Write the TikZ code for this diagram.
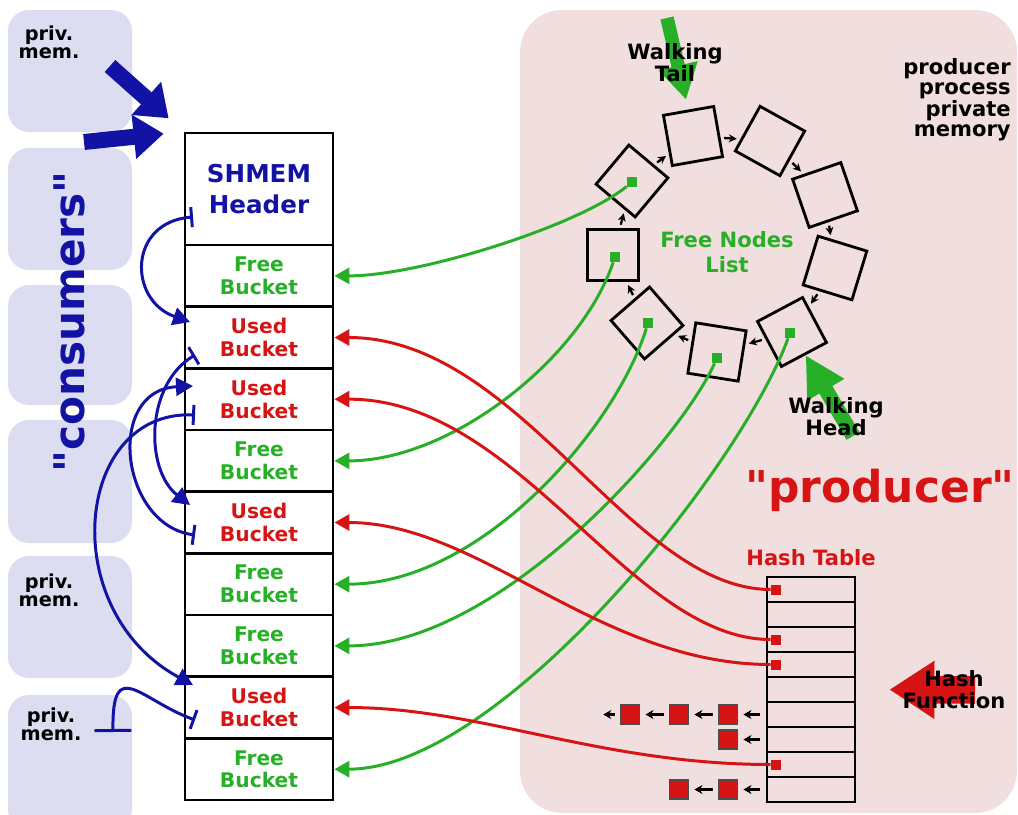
\documentclass[tikz,border=0pt]{standalone}
\usepackage{fontspec}
\setmainfont{DejaVu Sans}[Ligatures=TeXOff]
\usetikzlibrary{arrows.meta}

\definecolor{shmblue}{RGB}{18,18,165}
\definecolor{shmred}{RGB}{215,20,20}
\definecolor{shmgreen}{RGB}{40,175,40}
\definecolor{consbg}{RGB}{220,221,240}
\definecolor{prodbg}{RGB}{241,222,222}

\begin{document}
\begin{tikzpicture}[x=0.02cm,y=-0.02cm]
  \useasboundingbox (0,0) rectangle (1018,815);

  % node styles
  \tikzstyle{Bucket}=[draw,line width=1.6pt,minimum width=2.96cm,
  minimum height=1.234cm,inner sep=0pt,align=center,
  font=\bfseries\fontsize{11.5}{13}\selectfont]
  \tikzstyle{Free}=[text=shmgreen]
  \tikzstyle{Used}=[text=shmred]
  \tikzstyle{Cell}=[draw,line width=1.6pt,minimum size=1.02cm,inner sep=0pt]
  \tikzstyle{Slot}=[draw,line width=1.6pt,minimum width=1.76cm,
  minimum height=0.5cm,inner sep=0pt]
  \tikzstyle{Dot}=[inner sep=0pt,minimum size=0.2cm]
  \tikzstyle{Item}=[fill=shmred,draw=black!70,line width=0.8pt,
  minimum size=0.38cm,inner sep=0pt]
  \tikzstyle{Label}=[font=\bfseries\fontsize{12}{13}\selectfont,
  align=center,inner sep=0pt]
  \tikzstyle{Mem}=[font=\bfseries\fontsize{11}{10.2}\selectfont,
  align=center,inner sep=0pt]

  % connector styles
  \tikzstyle{Link}=[line width=1.7pt,-{Triangle[length=0.3cm,width=0.32cm]}]
  \tikzstyle{Lock}=[line width=1.7pt,shmblue,
  {Bar[width=0.4cm]}-{Triangle[length=0.34cm,width=0.36cm]}]
  \tikzstyle{Ring}=[line width=1.3pt,-{Stealth[length=0.16cm,width=0.16cm]},
  shorten <=2pt,shorten >=2pt]
  \tikzstyle{Chain}=[line width=1.3pt,-{Stealth[length=0.16cm,width=0.18cm]},
  shorten <=3pt,shorten >=3pt]
  \tikzstyle{Fat}=[-{Triangle[length=0.6cm,width=0.85cm]}]

  % backgrounds
  \foreach \top/\bot in {10/132,148/270,285/405,420/543,556/678,695/830}
    \fill[consbg,rounded corners=12pt] (8,\top) rectangle (132,\bot);
  \fill[prodbg,rounded corners=24pt] (520,10) rectangle (1017,813);

  % consumers
  \node[Mem] (pm1) at (49,42) {priv.\\mem.};
  \node[Mem] (pm2) at (49,590) {priv.\\mem.};
  \node[Mem] (pm3) at (51,724) {priv.\\mem.};
  \node[Label,rotate=90,text=shmblue,
  font=\bfseries\fontsize{24}{24}\selectfont] (cons) at (69,322) {"consumers"};

  % shared memory
  \node[Bucket,minimum height=2.24cm,text=shmblue,
  font=\bfseries\fontsize{14}{18}\selectfont] (hdr) at (259,189) {SHMEM\\Header};
  \foreach \kind [count=\i] in {Free,Used,Used,Free,Used,Free,Free,Used,Free}
    \node[Bucket,\kind] (b\i) at (259,214.17+61.67*\i) {\kind\\Bucket};

  % hash table
  \foreach \i in {1,...,9}
    \node[Slot] (h\i) at (811,564.5+25*\i) {};
  \node[Label,text=shmred] (ht) at (811,558) {Hash Table};

  % free nodes ring
  \node[Cell,rotate=10]  (nA) at (693,136) {};
  \node[Cell,rotate=-29] (nB) at (770,141) {};
  \node[Cell,rotate=19]  (nC) at (825,195) {};
  \node[Cell,rotate=-17] (nD) at (835,268) {};
  \node[Cell,rotate=28]  (nE) at (792,332) {};
  \node[Cell,rotate=-9]  (nF) at (717,352) {};
  \node[Cell,rotate=41]  (nG) at (647,323) {};
  \node[Cell]            (nH) at (613,255) {};
  \node[Cell,rotate=50]  (nI) at (632,181) {};
  \foreach \a/\b in {nI/nA,nA/nB,nB/nC,nC/nD,nD/nE,nE/nF,nF/nG,nG/nH,nH/nI}
    \draw[Ring] (\a) -- (\b);
  \node[Label,text=shmgreen,font=\bfseries\fontsize{12}{14}\selectfont]
    (fnl) at (727,252) {Free Nodes\\List};

  \node[Dot,fill=shmgreen] (dI) at (632,182) {};
  \node[Dot,fill=shmgreen] (dH) at (615,257) {};
  \node[Dot,fill=shmgreen] (dG) at (648,323) {};
  \node[Dot,fill=shmgreen] (dF) at (717,358) {};
  \node[Dot,fill=shmgreen] (dE) at (790,333) {};

  \node[Dot,fill=shmred] (r1) at (776,589.5) {};
  \node[Dot,fill=shmred] (r3) at (776,639.5) {};
  \node[Dot,fill=shmred] (r4) at (776,664.5) {};
  \node[Dot,fill=shmred] (r8) at (776,764.5) {};

  % free buckets
  \draw[Link,shmgreen] (dI) .. controls (580,225) and (420,276) .. (b1.east);
  \draw[Link,shmgreen] (dH) .. controls (580,360) and (450,461) .. (b4.east);
  \draw[Link,shmgreen] (dG) .. controls (615,430) and (480,584) .. (b6.east);
  \draw[Link,shmgreen] (dF) .. controls (680,440) and (500,646) .. (b7.east);
  \draw[Link,shmgreen] (dE) .. controls (740,470) and (500,769) .. (b9.east);

  % used buckets
  \draw[Link,shmred] (r1) .. controls (630,589.5) and (520,337.5) .. (b2.east);
  \draw[Link,shmred] (r3) .. controls (630,639.5) and (520,399) .. (b3.east);
  \draw[Link,shmred] (r4) .. controls (600,664.5) and (480,522.5) .. (b5.east);
  \draw[Link,shmred] (r8) .. controls (600,764.5) and (480,707.5) .. (b8.east);

  % collision chains
  \node[Item] (q61) at (728,714.5) {};
  \node[Item] (q62) at (679,714.5) {};
  \node[Item] (q63) at (630,714.5) {};
  \coordinate (q64) at (598,714.5);
  \node[Item] (q71) at (728,739.5) {};
  \node[Item] (q91) at (728,789.5) {};
  \node[Item] (q92) at (679,789.5) {};
  \draw[Chain] (h6) -- (q61);
  \draw[Chain] (q61) -- (q62);
  \draw[Chain] (q62) -- (q63);
  \draw[Chain] (q63) -- (q64);
  \draw[Chain] (h7) -- (q71);
  \draw[Chain] (h9) -- (q91);
  \draw[Chain] (q91) -- (q92);

  % consumer locks
  \coordinate (k1s) at (193,217);  \coordinate (k1e) at (190,322);
  \coordinate (k2s) at (195,355);  \coordinate (k2e) at (190,505);
  \coordinate (k3s) at (195,535);  \coordinate (k3e) at (193,386);
  \coordinate (k4s) at (195,415);  \coordinate (k4e) at (193,685);
  \coordinate (k5s) at (113,732);  \coordinate (k5e) at (195,720);
  \draw[Lock] (k1s) .. controls (128,222) and (128,300) .. (k1e);
  \draw[Lock] (k2s) .. controls (145,385) and (145,470) .. (k2e);
  \draw[Lock] (k3s) .. controls (120,525) and (105,390) .. (k3e);
  \draw[Lock] (k4s) .. controls (75,410) and (55,610) .. (k4e);
  \draw[line width=1.7pt,shmblue,{Bar[width=0.74cm]}-{Bar[width=0.4cm]}]
    (k5s) .. controls (112,655) and (140,700) .. (k5e);

  % big arrows
  \coordinate (c1) at (110,66);
  \coordinate (c2) at (84,142);
  \draw[Fat,shmblue,line width=0.32cm,shorten >=0.4cm] (c1) -- (hdr.north west);
  \draw[Fat,shmblue,line width=0.32cm,shorten >=0.4cm] (c2) -- (hdr.north west);

  \coordinate (wt) at (667,18);
  \draw[shmgreen,line width=0.27cm,-{Triangle[length=0.7cm,width=0.75cm]},
    shorten >=0.2cm] (wt) -- (nA.north);
  \node[Label,font=\bfseries\fontsize{12}{12.5}\selectfont] (wtl) at (675,63) {Walking\\Tail};

  \coordinate (wh) at (853,436);
  \draw[shmgreen,line width=0.3cm,-{Triangle[length=0.8cm,width=0.8cm]}] (wh) -- (nE);
  \node[Label,font=\bfseries\fontsize{12}{12.5}\selectfont] (whl) at (836,417) {Walking\\Head};

  \coordinate (hf) at (975,690);
  \draw[shmred,line width=0.55cm,-{Triangle[length=0.9cm,width=1.1cm]},
    shorten >=0.66cm] (hf) -- (h5.east);
  \node[Label,font=\bfseries\fontsize{12}{12.5}\selectfont] (hfl) at (954,690) {Hash\\Function};

  % producer
  \node[Label,align=right,anchor=north east,
  font=\bfseries\fontsize{12}{11.5}\selectfont] (ppm) at (1011,58)
    {producer\\process\\private\\memory};
  \node[Label,text=shmred,font=\bfseries\fontsize{25}{25}\selectfont]
    (prod) at (880,490) {"producer"};

\end{tikzpicture}
\end{document}
